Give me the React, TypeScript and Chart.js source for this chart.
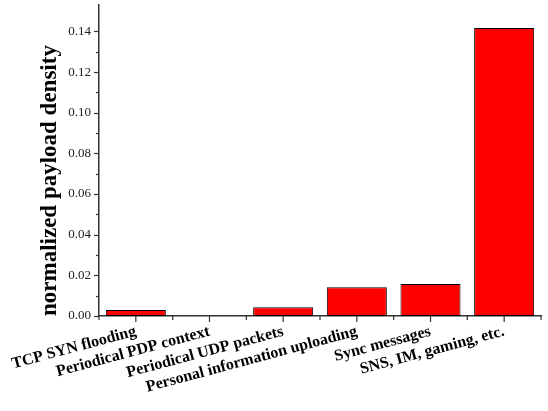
import React, { useEffect, useRef } from "react";
import { Chart, registerables } from "chart.js";

Chart.register(...registerables);

const categories = [
  "TCP SYN flooding",
  "Periodical PDP context",
  "Periodical UDP packets",
  "Personal information uploading",
  "Sync messages",
  "SNS, IM, gaming, etc.",
];
const densityValues = [0.003, 0, 0.0043, 0.0141, 0.0158, 0.1417];
const yMin = 0;
const yMax = 0.153;
const yStep = 0.01;

const tickPlugin = {
  id: "customTicks",
  afterDraw(chart: any) {
    const ctx = chart.ctx;
    const x = chart.scales.x;
    const y = chart.scales.y;
    ctx.save();
    ctx.strokeStyle = "#333";
    ctx.lineWidth = 1.2;
    y.ticks.forEach((t: any) => {
      const py = Math.round(y.getPixelForValue(t.value)) + 0.5;
      const major = Math.round(t.value * 100) % 2 === 0;
      const len = major ? 5 : 3;
      ctx.beginPath();
      ctx.moveTo(y.right - len, py);
      ctx.lineTo(y.right, py);
      ctx.stroke();
    });
    const n = categories.length;
    const w = (x.right - x.left) / n;
    for (let i = 0; i < n; i++) {
      const cx = x.getPixelForValue(i);
      ctx.beginPath();
      ctx.moveTo(cx, x.top);
      ctx.lineTo(cx, x.top + 6);
      ctx.stroke();
      const bx = cx + w / 2;
      ctx.beginPath();
      ctx.moveTo(bx, x.top);
      ctx.lineTo(bx, x.top + 4);
      ctx.stroke();
      if (i === 0) {
        ctx.beginPath();
        ctx.moveTo(cx - w / 2, x.top);
        ctx.lineTo(cx - w / 2, x.top + 4);
        ctx.stroke();
      }
    }
    ctx.restore();
  },
};

export default function App() {
  const ref = useRef<HTMLCanvasElement>(null);
  useEffect(() => {
    if (!ref.current) return;
    const chart = new Chart(ref.current, {
      type: "bar",
      data: {
        labels: categories,
        datasets: [
          {
            data: densityValues,
            backgroundColor: "#ff0000",
            borderColor: "#000",
            borderWidth: 1,
            borderSkipped: false,
            barPercentage: 0.815,
            categoryPercentage: 1,
          },
        ],
      },
      options: {
        animation: false,
        responsive: true,
        maintainAspectRatio: false,
        layout: { padding: { left: 0, top: 5, right: 7, bottom: 0 } },
        plugins: { legend: { display: false }, tooltip: { enabled: false } },
        scales: {
          x: {
            grid: { display: false, drawTicks: false },
            border: { display: true, color: "#333", width: 1.5 },
            ticks: {
              autoSkip: false,
              maxRotation: 15,
              minRotation: 15,
              padding: 6,
              color: "#000",
              font: { family: "Liberation Serif", size: 16, weight: "bold" },
            },
            afterFit(scale: any) {
              scale.height = 95;
              scale.paddingLeft = 0;
              scale.paddingRight = 0;
            },
          },
          y: {
            min: yMin,
            max: yMax,
            grid: { display: false, drawTicks: false },
            border: { display: true, color: "#333", width: 1.5 },
            ticks: {
              stepSize: yStep,
              padding: 8,
              color: "#222",
              font: { family: "Liberation Serif", size: 13 },
              callback(value: any) {
                const v = Number(value);
                return Math.round(v * 100) % 2 === 0 ? v.toFixed(2) : "";
              },
            },
            afterBuildTicks(scale: any) {
              scale.ticks = scale.ticks.filter(
                (t: any) => Math.abs(t.value * 100 - Math.round(t.value * 100)) < 1e-6
              );
            },
            afterFit(scale: any) {
              scale.width = 99;
              scale.paddingTop = 0;
              scale.paddingBottom = 0;
            },
            title: {
              display: true,
              text: "normalized payload density",
              align: "start",
              color: "#000",
              padding: { top: 36, bottom: 0 },
              font: { family: "Liberation Serif", size: 23, weight: "bold" },
            },
          },
        },
      },
      plugins: [tickPlugin],
    } as any);
    return () => chart.destroy();
  }, []);
  return (
    <div style={{ position: "absolute", left: 0, top: 0, width: 548, height: 411 }}>
      <canvas ref={ref} />
    </div>
  );
}
